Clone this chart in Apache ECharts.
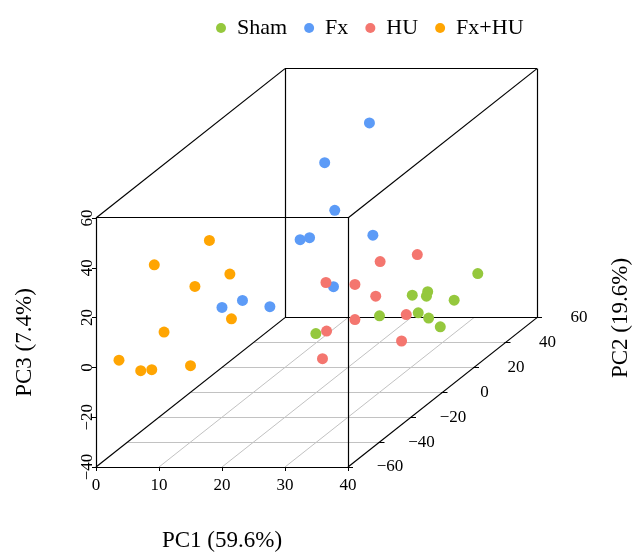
<!DOCTYPE html>
<html>
<head>
<meta charset="utf-8">
<script src="https://cdn.jsdelivr.net/npm/echarts@6/dist/echarts.min.js"></script>
<style>
  html, body { margin: 0; padding: 0; background: #fff; }
  #chart { width: 633px; height: 553px; }
</style>
</head>
<body>
<div id="chart"></div>
<script>
// PCA scores (PC1, PC2, PC3) for each group
const groupNames = ['Sham', 'Fx', 'HU', 'Fx+HU'];

const shamPC1 = [38.1, 27.7, 28.9, 31.2, 35.6, 25.0, 29.9, 32.8, 35.9, 22.4];
const shamPC2 = [30, 30, 35, 25, 25, 20, 25, 20, 15, -10];
const shamPC3 = [-7.3, -16.0, -17.1, -13.9, -15.5, -19.3, -20.6, -20.2, -21.2, -11.4];

const fxPC1 = [15.9, 11.3, 15.4, 12.4, 13.9, 20.2, 20.2, 10.0, 12.0, 15.1];
const fxPC2 = [50, 40, 30, 20, 20, 35, 10, -20, -15, -10];
const fxPC3 = [43.2, 32.2, 18.1, 11.3, 12.1, 5.6, -2.6, 4.1, 4.4, -0.6];

const huPC1 = [26.0, 22.6, 19.0, 21.1, 24.4, 23.6, 28.0, 21.6, 31.0, 22.2];
const huPC2 = [40, 30, 10, 20, 20, 10, 25, 0, 10, -5];
const huPC3 = [-4.7, -2.5, -0.9, -6.7, -11.4, -15.8, -21.3, -15.4, -24.4, -24.0];

const fxhuPC1 = [10.5, 5.5, 15.0, 10.7, 14.0, 8.3, 2.4, 4.6, 5.1, 10.0];
const fxhuPC2 = [-30, -45, -35, -40, -30, -50, -55, -50, -45, -40];
const fxhuPC3 = [36.0, 33.7, 25.0, 22.5, 4.5, 9.2, 0.4, -6.3, -8.4, -9.3];

// Axis ticks
const pc1Ticks = [0, 10, 20, 30, 40];
const pc2Ticks = [-60, -40, -20, 0, 20, 40, 60];
const pc3Ticks = [-40, -20, 0, 20, 40, 60];

const axisTitles = ['PC1 (59.6%)', 'PC2 (19.6%)', 'PC3 (7.4%)'];
const groupColors = ['#95C83D', '#5C9BF7', '#F4766F', '#FFA502'];

// ---- oblique projection of the 3D box onto the front (PC1, PC3) plane ----
const X_MIN = pc1Ticks[0], X_MAX = pc1Ticks[pc1Ticks.length - 1];
const D_MIN = pc2Ticks[0], D_MAX = pc2Ticks[pc2Ticks.length - 1];
const Z_MIN = pc3Ticks[0], Z_MAX = pc3Ticks[pc3Ticks.length - 1];
// shift of the back face, in PC1 / PC3 units
const DEPTH_SHIFT_X = 30;
const DEPTH_SHIFT_Z = 60;

function project(x, d, z) {
  const f = (d - D_MIN) / (D_MAX - D_MIN);
  return [x + f * DEPTH_SHIFT_X, z + f * DEPTH_SHIFT_Z];
}

function groupPoints(p1, p2, p3) {
  return p1.map((v, i) => project(v, p2[i], p3[i]));
}
const groupData = [
  groupPoints(shamPC1, shamPC2, shamPC3),
  groupPoints(fxPC1, fxPC2, fxPC3),
  groupPoints(huPC1, huPC2, huPC3),
  groupPoints(fxhuPC1, fxhuPC2, fxhuPC3)
];

// box edges and floor grid as projected segments
function seg(a, b, kind) {
  const p = project(a[0], a[1], a[2]);
  const q = project(b[0], b[1], b[2]);
  return [p[0], p[1], q[0], q[1], kind];
}
const segments = [];
// floor grid (drawn first, underneath)
pc2Ticks.slice(1, -1).forEach(v => segments.push(seg([X_MIN, v, Z_MIN], [X_MAX, v, Z_MIN], 0)));
pc1Ticks.slice(1, -1).forEach(v => segments.push(seg([v, D_MIN, Z_MIN], [v, D_MAX, Z_MIN], 0)));
// the twelve box edges
[D_MIN, D_MAX].forEach(d => {
  segments.push(seg([X_MIN, d, Z_MIN], [X_MAX, d, Z_MIN], 1));
  segments.push(seg([X_MIN, d, Z_MAX], [X_MAX, d, Z_MAX], 1));
  segments.push(seg([X_MIN, d, Z_MIN], [X_MIN, d, Z_MAX], 1));
  segments.push(seg([X_MAX, d, Z_MIN], [X_MAX, d, Z_MAX], 1));
});
[[X_MIN, Z_MIN], [X_MAX, Z_MIN], [X_MIN, Z_MAX], [X_MAX, Z_MAX]].forEach(c => {
  segments.push(seg([c[0], D_MIN, c[1]], [c[0], D_MAX, c[1]], 1));
});

const pc2TickData = pc2Ticks.map(v => {
  const p = project(X_MAX, v, Z_MIN);
  return [p[0], p[1], v];
});

const FONT = '"Liberation Serif", "Times New Roman", serif';
const fmt = v => (v < 0 ? '\u2212' + Math.abs(v) : String(v));

function crisp(v) { return Math.round(v - 0.5) + 0.5; }

const chart = echarts.init(document.getElementById('chart'), null, { renderer: 'canvas' });

const option = {
  backgroundColor: '#fff',
  animation: false,
  textStyle: { fontFamily: FONT },
  legend: {
    data: groupNames,
    left: 211,
    top: 12,
    icon: 'circle',
    itemWidth: 10,
    itemHeight: 10,
    itemGap: 17,
    textStyle: { fontFamily: FONT, fontSize: 22, color: '#000', padding: [0, 0, 0, 6] }
  },
  grid: { left: 96, top: 218, width: 252, height: 251, containLabel: false },
  xAxis: {
    type: 'value',
    min: X_MIN, max: X_MAX, interval: 10,
    name: axisTitles[0],
    nameLocation: 'middle',
    nameGap: 62,
    nameTextStyle: { fontFamily: FONT, fontSize: 23, color: '#000' },
    axisLine: { onZero: false, lineStyle: { color: '#000', width: 1 } },
    axisTick: { length: 4, lineStyle: { color: '#000' } },
    axisLabel: { fontFamily: FONT, fontSize: 17, color: '#000', margin: 10, formatter: fmt },
    splitLine: { show: false }
  },
  yAxis: {
    type: 'value',
    min: Z_MIN, max: Z_MAX, interval: 20,
    name: axisTitles[2],
    nameLocation: 'middle',
    nameGap: 60,
    nameTextStyle: { fontFamily: FONT, fontSize: 23, color: '#000' },
    axisLine: { onZero: false, lineStyle: { color: '#000', width: 1 } },
    axisTick: { length: 4, lineStyle: { color: '#000' } },
    axisLabel: { fontFamily: FONT, fontSize: 17, color: '#000', rotate: 90, margin: 0, formatter: fmt },
    splitLine: { show: false }
  },
  graphic: [{
    type: 'text',
    x: 621, y: 318,
    rotation: Math.PI / 2,
    style: {
      text: axisTitles[1],
      fontFamily: FONT, fontSize: 23, fill: '#000',
      align: 'center', verticalAlign: 'middle'
    }
  }],
  series: [
    {
      type: 'custom',
      name: 'box',
      clip: false,
      silent: true,
      z: 1,
      data: segments,
      encode: { x: [0, 2], y: [1, 3] },
      renderItem: function (params, api) {
        const a = api.coord([api.value(0), api.value(1)]);
        const b = api.coord([api.value(2), api.value(3)]);
        let x1 = a[0], y1 = a[1], x2 = b[0], y2 = b[1];
        if (Math.abs(x1 - x2) < 0.01) { x1 = x2 = crisp(x1); }
        if (Math.abs(y1 - y2) < 0.01) { y1 = y2 = crisp(y1); }
        const edge = api.value(4) === 1;
        return {
          type: 'line',
          shape: { x1: x1, y1: y1, x2: x2, y2: y2 },
          style: { stroke: edge ? '#000' : '#c2c2c2', lineWidth: edge ? 1.2 : 1 }
        };
      }
    },
    {
      type: 'custom',
      name: 'pc2axis',
      clip: false,
      silent: true,
      z: 1,
      data: pc2TickData,
      encode: { x: 0, y: 1 },
      renderItem: function (params, api) {
        const p = api.coord([api.value(0), api.value(1)]);
        return {
          type: 'group',
          children: [
            {
              type: 'line',
              shape: { x1: p[0] - 1, y1: crisp(p[1]), x2: p[0] + 5, y2: crisp(p[1]) },
              style: { stroke: '#000', lineWidth: 1 }
            },
            {
              type: 'text',
              x: p[0] + 42, y: p[1],
              style: {
                text: fmt(api.value(2)),
                fontFamily: FONT, fontSize: 17, fill: '#000',
                align: 'center', verticalAlign: 'middle'
              }
            }
          ]
        };
      }
    }
  ].concat(groupNames.map((name, i) => ({
    type: 'scatter',
    name: name,
    clip: false,
    z: 5,
    symbol: 'circle',
    symbolSize: 11,
    itemStyle: { color: groupColors[i], opacity: 1 },
    data: groupData[i]
  })))
};

chart.setOption(option);
</script>
</body>
</html>
